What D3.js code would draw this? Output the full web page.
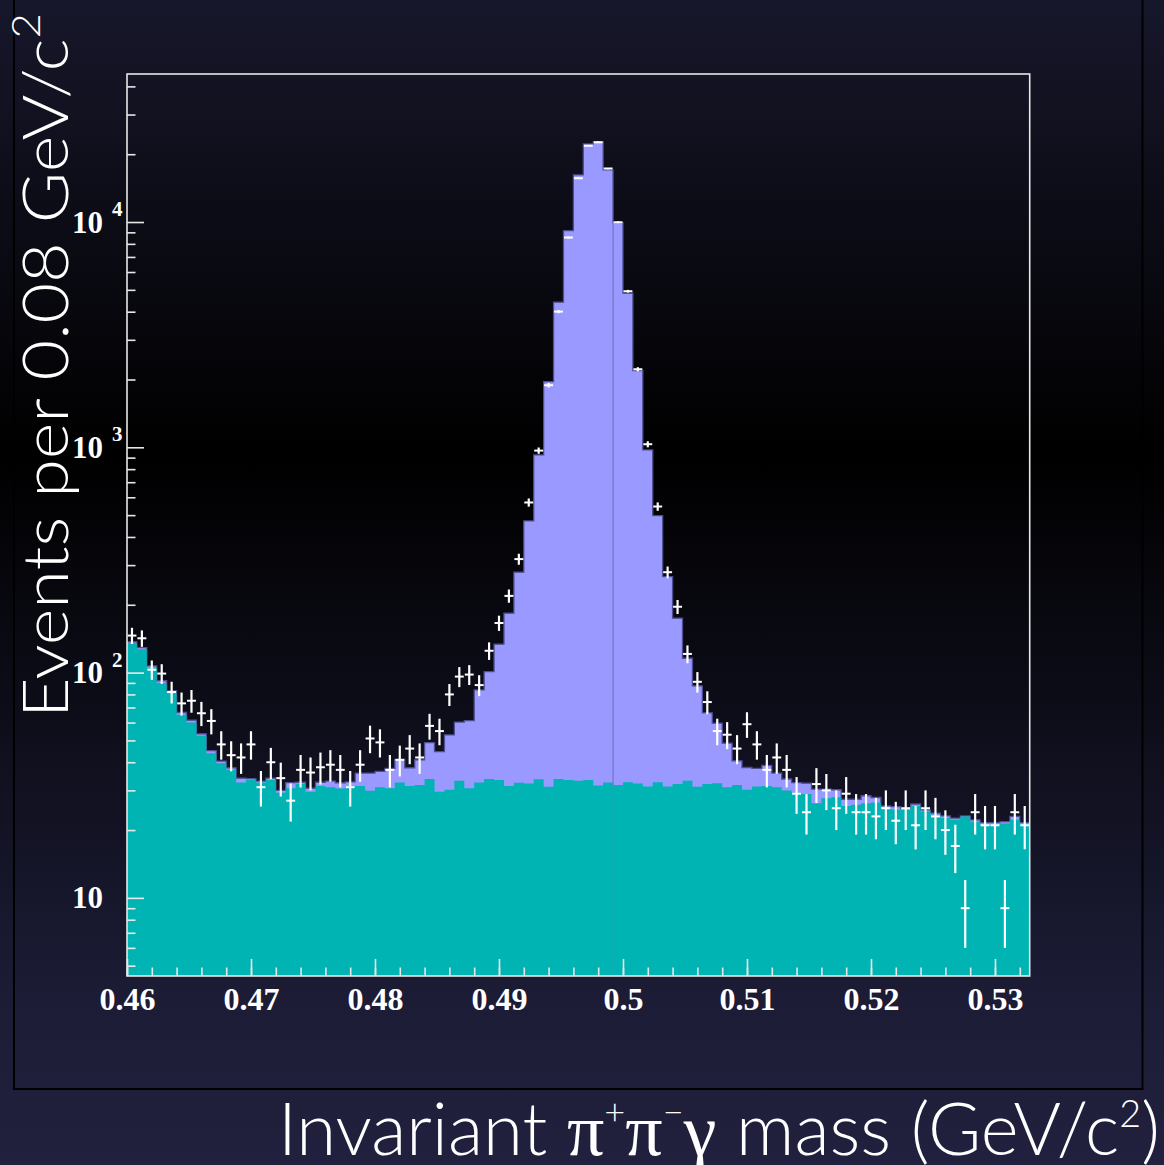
<!DOCTYPE html>
<html>
<head>
<meta charset="utf-8">
<script src="https://cdn.jsdelivr.net/npm/d3@7"></script>
<style>
  html, body { margin: 0; padding: 0; background: #000; }
  svg { display: block; }
</style>
</head>
<body>
<svg id="chart" width="1164" height="1165"></svg>
<script>
// Histogram binning: 91 bins of 0.8 MeV starting at 0.46 GeV/c^2
const xLow = 0.46;
const binWidth = 0.0008;

// Observed events per bin
const dataCounts = [
  146, 142, 103, 99, 82, 73, 75, 66, 61, 48,
  43, 42, 48, 31, 40, 34, 27, 37, 36, 38,
  39, 37, 31, 39, 51, 49, 37, 41, 46, 42,
  58, 55, 80, 96, 98, 88, 125, 166, 219, 319,
  569, 967, 1886, 4003, 8528, 15650, 21830, 22610, 17260, 9980,
  4930, 2221, 1032, 546, 279, 196, 121, 91, 74, 55,
  53, 46, 59, 48, 37, 42, 37, 29, 24, 32,
  30, 25, 29, 24, 24, 23, 25, 22, 25, 21,
  25, 23, 20, 17, 9, 24, 21, 21, 9, 24,
  21
];

// Fitted total (signal + background) per bin
const totalFit = [
  137, 129, 107, 92, 83, 66.5, 61.5, 53.5, 45, 40.5,
  37.8, 34.0, 33.8, 33.0, 34.0, 30.0, 32.5, 32.6, 30.7, 32.6,
  33.0, 32.4, 32.7, 35.8, 35.8, 36.4, 37.6, 41.2, 37.8, 41.0,
  48.9, 44.6, 52.9, 60.3, 61.2, 83.8, 101, 133.7, 183.5, 279,
  471, 925, 1957, 4406, 9158, 16180, 22220, 22750, 17030, 9940,
  4831, 2189, 974, 497.6, 266.8, 174.4, 115.8, 87.3, 66.3, 59.6,
  48.6, 40.6, 37.9, 37.6, 38.7, 35.8, 33.7, 32.5, 32.3, 30.4,
  30.4, 30.2, 27.4, 27.4, 28.4, 27.9, 25.6, 25.4, 25.0, 26.1,
  24.6, 23.8, 23.1, 22.6, 23.1, 22.2, 21.6, 21.6, 21.8, 23.0,
  21.6
];

// Fitted background component per bin
const backgroundFit = [
  135, 127, 105, 90, 81, 65, 60, 52.4, 43.9, 39.6,
  37.0, 32.5, 33.4, 32.5, 33.4, 29.3, 30.7, 32.1, 29.6, 31.4,
  31.0, 30.6, 31.4, 31.4, 29.9, 31.0, 30.7, 32.5, 31.4, 31.7,
  33.7, 29.6, 30.2, 33.1, 30.7, 32.5, 33.7, 33.4, 31.4, 32.4,
  32.2, 33.6, 31.1, 33.7, 33.4, 33.1, 33.4, 31.5, 32.5, 31.7,
  32.6, 32.2, 31.2, 32.6, 31.2, 32.0, 33.1, 31.1, 32.0, 32.3,
  31.0, 31.7, 30.2, 31.2, 31.4, 31.0, 30.0, 29.3, 28.9, 26.3,
  27.7, 28.0, 25.6, 25.9, 26.3, 26.5, 25.0, 24.7, 24.6, 25.6,
  24.2, 23.4, 22.6, 22.2, 23.0, 21.8, 21.1, 21.1, 21.4, 22.2,
  21.3
];

// Axis ticks and labels
const xTickValues = [0.46, 0.47, 0.48, 0.49, 0.50, 0.51, 0.52, 0.53];
const xTickLabels = ["0.46", "0.47", "0.48", "0.49", "0.5", "0.51", "0.52", "0.53"];
const yTickValues = [10, 100, 1000, 10000];
const yTickExponents = ["", "2", "3", "4"];
const yRange = [4.5, 45400];

const nBins = dataCounts.length;
const edges = d3.range(nBins + 1).map(i => xLow + i * binWidth);

const frame = { left: 127, right: 1029.7, top: 74, bottom: 976 };

const svg = d3.select("#chart");
const defs = svg.append("defs");

// Page background: navy at top and bottom, black through the middle
const grad = defs.append("linearGradient")
  .attr("id", "bg").attr("x1", 0).attr("y1", 0).attr("x2", 0).attr("y2", 1);
[["0%", "#17172b"], ["39%", "#000000"], ["86%", "#1c1c36"], ["100%", "#21213f"]]
  .forEach(([o, c]) => grad.append("stop").attr("offset", o).attr("stop-color", c));

svg.append("rect").attr("width", 1164).attr("height", 1165).attr("fill", "url(#bg)");

// Pad border
svg.append("rect")
  .attr("x", 14).attr("y", -4).attr("width", 1128.5).attr("height", 1093)
  .attr("fill", "none").attr("stroke", "#000").attr("stroke-width", 2);

defs.append("clipPath").attr("id", "plotClip")
  .append("rect")
  .attr("x", frame.left).attr("y", frame.top)
  .attr("width", frame.right - frame.left).attr("height", frame.bottom - frame.top);

const x = d3.scaleLinear().domain([edges[0], edges[nBins]]).range([frame.left, frame.right]);
const y = d3.scaleLog().domain(yRange).range([frame.bottom, frame.top]);

const stepPoints = vals => vals.map((v, i) => ({ x: edges[i], v }))
  .concat([{ x: edges[nBins], v: vals[nBins - 1] }]);

const area = d3.area().curve(d3.curveStepAfter)
  .x(d => x(d.x)).y0(frame.bottom).y1(d => y(d.v));
const outline = d3.line().curve(d3.curveStepAfter)
  .x(d => x(d.x)).y(d => y(d.v));

const plot = svg.append("g").attr("clip-path", "url(#plotClip)");

// Total fit (signal + background)
plot.append("path").datum(stepPoints(totalFit))
  .attr("d", area).attr("fill", "#9999ff");
plot.append("path").datum(stepPoints(totalFit))
  .attr("d", outline).attr("fill", "none")
  .attr("stroke", "#4d4d8f").attr("stroke-width", 1.3);

// Background component
plot.append("path").datum(stepPoints(backgroundFit))
  .attr("d", area).attr("fill", "#00b4b4");

// Bin edge line left over from the fit drawing
const edgeIdx = 49;
plot.append("line")
  .attr("x1", x(edges[edgeIdx])).attr("x2", x(edges[edgeIdx]))
  .attr("y1", y(totalFit[edgeIdx])).attr("y2", y(backgroundFit[edgeIdx]))
  .attr("stroke", "#7474c8").attr("stroke-width", 1.2);
plot.append("line")
  .attr("x1", x(edges[edgeIdx])).attr("x2", x(edges[edgeIdx]))
  .attr("y1", y(backgroundFit[edgeIdx])).attr("y2", frame.bottom)
  .attr("stroke", "#23a3bd").attr("stroke-width", 1);

// Data points with Poisson error bars
const pts = plot.append("g").attr("stroke", "#ffffff");
dataCounts.forEach((n, i) => {
  const xc = x(edges[i] + binWidth / 2);
  const err = Math.sqrt(n);
  pts.append("line")
    .attr("x1", x(edges[i]) + 0.5).attr("x2", x(edges[i + 1]) - 0.5)
    .attr("y1", y(n)).attr("y2", y(n)).attr("stroke-width", 2);
  pts.append("line")
    .attr("x1", xc).attr("x2", xc)
    .attr("y1", y(n + err)).attr("y2", y(Math.max(n - err, yRange[0])))
    .attr("stroke-width", 2.2);
});

// Axes
const tickColor = "#e8e8e8";
const labelFont = "'Liberation Serif', 'Times New Roman', serif";

const xMinor = d3.range(0, 37).map(k => +(0.46 + k * 0.002).toFixed(4)).filter(v => v <= edges[nBins]);
const xAxisMinor = d3.axisBottom(x).tickValues(xMinor).tickSize(-8.5).tickFormat("");
const xAxisMajor = d3.axisBottom(x).tickValues(xTickValues).tickSize(-17)
  .tickPadding(11).tickFormat((d, i) => xTickLabels[i]);

const gxm = svg.append("g").attr("transform", `translate(0,${frame.bottom})`).call(xAxisMinor);
const gx = svg.append("g").attr("transform", `translate(0,${frame.bottom})`).call(xAxisMajor);
[gxm, gx].forEach(g => {
  g.select(".domain").remove();
  g.selectAll(".tick line").attr("stroke", tickColor).attr("stroke-width", 1.6);
});
gx.selectAll(".tick text")
  .attr("fill", "#ffffff").attr("font-family", labelFont)
  .attr("font-weight", "bold").attr("font-size", 32);

const yMinor = [];
[1, 10, 100, 1000, 10000].forEach(dec => {
  for (let m = 2; m <= 9; m++) {
    const v = m * dec;
    if (v >= yRange[0] && v <= yRange[1]) yMinor.push(v);
  }
});
const yAxisMinor = d3.axisLeft(y).tickValues(yMinor).tickSize(-8.5).tickFormat("");
const yAxisMajor = d3.axisLeft(y).tickValues(yTickValues).tickSize(-17).tickFormat("");
const gym = svg.append("g").attr("transform", `translate(${frame.left},0)`).call(yAxisMinor);
const gy = svg.append("g").attr("transform", `translate(${frame.left},0)`).call(yAxisMajor);
[gym, gy].forEach(g => {
  g.select(".domain").remove();
  g.selectAll(".tick line").attr("stroke", tickColor).attr("stroke-width", 1.6);
});

// Log-axis labels: "10" with a raised exponent
const yLabels = svg.append("g").attr("fill", "#ffffff")
  .attr("font-family", labelFont).attr("font-weight", "bold");
yTickValues.forEach((v, i) => {
  const ty = y(v);
  yLabels.append("text")
    .attr("x", 103).attr("y", ty + 10.5)
    .attr("text-anchor", "end").attr("font-size", 31)
    .text("10");
  if (yTickExponents[i]) {
    yLabels.append("text")
      .attr("x", 112).attr("y", ty - 6)
      .attr("font-size", 21)
      .text(yTickExponents[i]);
  }
});

// Frame
svg.append("rect")
  .attr("x", frame.left).attr("y", frame.top)
  .attr("width", frame.right - frame.left).attr("height", frame.bottom - frame.top)
  .attr("fill", "none").attr("stroke", tickColor).attr("stroke-width", 1.6);

// Axis titles
const titleFont = "Lato, 'Noto Sans', 'DejaVu Sans', sans-serif";
const symbolFont = "'Liberation Serif', 'Times New Roman', serif";

const yTitle = svg.append("text")
  .attr("transform", "translate(68,718) rotate(-90)")
  .attr("fill", "#ffffff").attr("font-family", titleFont)
  .attr("font-weight", 300).attr("font-size", 64)
  .attr("textLength", 705).attr("lengthAdjust", "spacingAndGlyphs");
yTitle.append("tspan").text("Events per 0.08 GeV/c");
yTitle.append("tspan").attr("dy", -28).attr("font-size", 40).text("2");

// x title: built at a trial size, then rescaled so it spans the measured width
const xTitleStart = 278, xTitleWidth = 882;
const xTitle = svg.append("text")
  .attr("x", xTitleStart).attr("y", 1155)
  .attr("fill", "#ffffff").attr("font-family", titleFont)
  .attr("font-weight", 300);

function buildXTitle(F) {
  xTitle.selectAll("*").remove();
  xTitle.attr("font-size", F);
  const sym = 1.02 * F, sup = 0.5 * F, rise = 0.42 * F, sup2 = 0.52 * F, rise2 = 0.39 * F;
  xTitle.append("tspan").text("Invariant ");
  xTitle.append("tspan").attr("font-family", symbolFont).attr("font-size", sym).text("π");
  xTitle.append("tspan").attr("dy", -rise).attr("font-size", sup).text("+");
  xTitle.append("tspan").attr("dy", rise).attr("font-family", symbolFont).attr("font-size", sym).text("π");
  xTitle.append("tspan").attr("dy", -rise).attr("font-size", sup).text("−");
  xTitle.append("tspan").attr("dy", rise).attr("font-family", symbolFont).attr("font-size", sym).text("γ");
  xTitle.append("tspan").text(" mass (GeV/c");
  xTitle.append("tspan").attr("dy", -rise2).attr("font-size", sup2).text("2");
  xTitle.append("tspan").attr("dy", rise2).text(")");
}
buildXTitle(83);
const natural = xTitle.node().getComputedTextLength();
if (natural > 0) buildXTitle(83 * xTitleWidth / natural);
</script>
</body>
</html>
